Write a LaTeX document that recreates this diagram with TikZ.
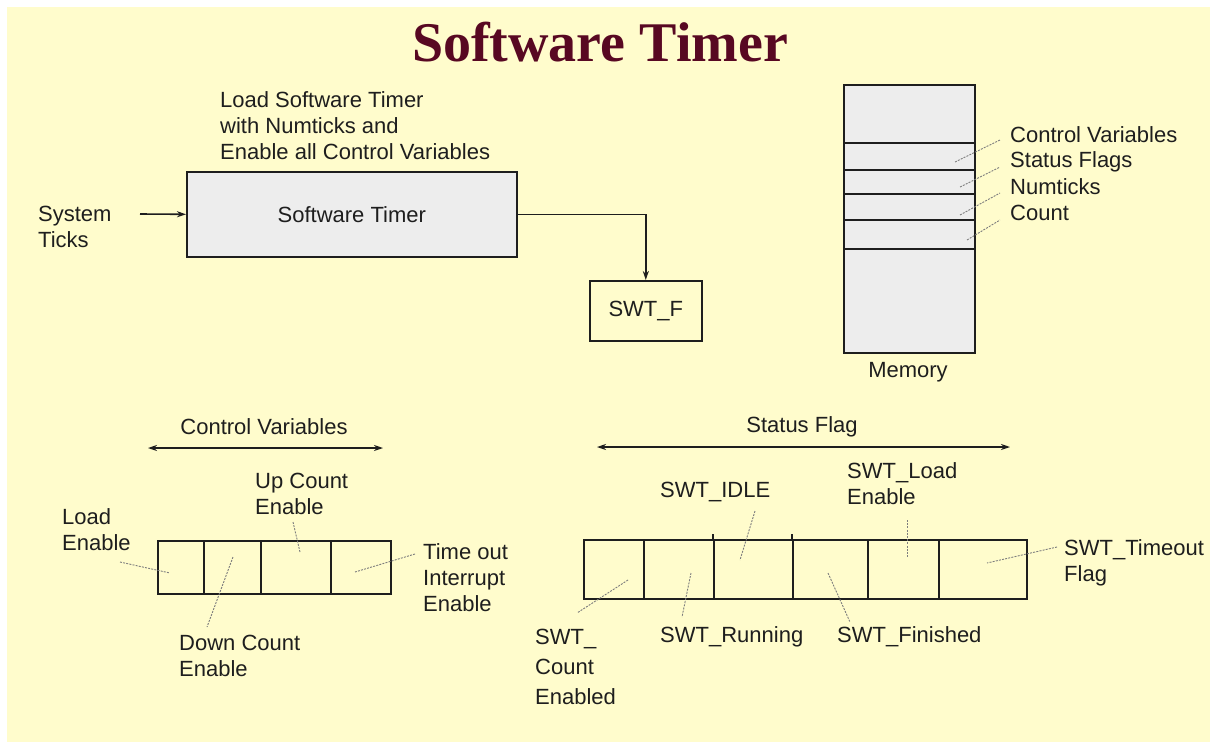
\documentclass[tikz,border=0pt]{standalone}
\usepackage{fontspec}
\setmainfont{Liberation Sans}
\newfontfamily\titlefont{Liberation Serif}
\usetikzlibrary{arrows.meta}
\definecolor{paper}{RGB}{255,252,204}
\definecolor{boxgray}{RGB}{237,237,237}
\definecolor{ink}{RGB}{30,30,30}
\definecolor{maroon}{RGB}{88,8,34}
\definecolor{leadgray}{RGB}{125,125,125}
\tikzset{
  lbl/.style={inner sep=0pt, anchor=west, align=left, text=ink, font=\fontsize{22}{26}\selectfont},
  cell/.style={draw=ink, line width=1.6pt, inner sep=0pt, anchor=north west, text=ink, font=\fontsize{22}{26}\selectfont},
  lead/.style={draw=leadgray, line width=0.9pt, dash pattern=on 2pt off 1.2pt},
  wire/.style={draw=ink, line width=1.6pt},
  tip/.style={-{Stealth[length=9pt,width=6pt]}},
  dbl/.style={{Stealth[length=9pt,width=6pt]}-{Stealth[length=9pt,width=6pt]}},
}
\begin{document}
\begin{tikzpicture}[x=1pt,y=-1pt]
% page and backdrop
\fill[white] (0,0) rectangle (1210,742);
\fill[paper] (7,7) rectangle (1210,742);
\useasboundingbox (0,0) rectangle (1210,742);

% heading
\node[inner sep=0pt, text=maroon, font=\titlefont\bfseries\fontsize{56}{60}\selectfont] (title) at (600,42) {Software Timer};

% ---------- timer block ----------
\node[lbl] (loadtxt) at (220,126) {Load Software Timer\\with Numticks and\\Enable all Control Variables};
\node[cell, fill=boxgray, minimum width=330pt, minimum height=85pt] (swt) at (186,171) {Software Timer};
\node[lbl] (ticks) at (38,227) {System\\Ticks};
\coordinate (tickin) at (140,214);
\draw[wire, tip] (tickin) -- (swt.west);
\node[cell, minimum width=112pt, minimum height=60pt] (swtf) at (589,280) {SWT\_F};
\draw[wire, tip] (swt.east) -| (swtf.north);

% ---------- memory map ----------
\node[cell, fill=boxgray, minimum width=131pt, minimum height=268pt] (mem) at (843,84) {};
\foreach \d in {59,86,110,136,165}
  \draw[wire] ([yshift=-\d pt]mem.north west) -- ([yshift=-\d pt]mem.north east);
\node[lbl, anchor=north] (memtxt) at (908,362) {Memory};
\node[lbl] (mcv) at (1010,135) {Control Variables};
\node[lbl] (msf) at (1010,162) {Status Flags};
\node[lbl] (mnt) at (1010,187) {Numticks};
\node[lbl] (mct) at (1010,213) {Count};
\coordinate (mcvA) at (955,162); \coordinate (mcvB) at (1000,140);
\coordinate (msfA) at (960,187); \coordinate (msfB) at (1000,167);
\coordinate (mntA) at (960,215); \coordinate (mntB) at (1000,193);
\coordinate (mctA) at (967,240); \coordinate (mctB) at (1000,220);
\draw[lead] (mcvA) -- (mcvB);
\draw[lead] (msfA) -- (msfB);
\draw[lead] (mntA) -- (mntB);
\draw[lead] (mctA) -- (mctB);

% ---------- control variables register ----------
\node[lbl, anchor=center] (cvtitle) at (264,427) {Control Variables};
\coordinate (cvL) at (148,448); \coordinate (cvR) at (383,448);
\draw[wire, line width=1.3pt, dbl] (cvL) -- (cvR);
\node[cell, minimum width=46pt, minimum height=53pt] (c1) at (157,540) {};
\node[cell, minimum width=57pt, minimum height=53pt] (c2) at (203,540) {};
\node[cell, minimum width=70pt, minimum height=53pt] (c3) at (260,540) {};
\node[cell, minimum width=60pt, minimum height=53pt] (c4) at (330,540) {};

\node[lbl] (cload) at (62,530) {Load\\Enable};
\node[lbl] (cup) at (255,494) {Up Count\\Enable};
\node[lbl] (ctime) at (423,578) {Time out\\Interrupt\\Enable};
\node[lbl] (cdown) at (179,656) {Down Count\\Enable};
\coordinate (cloadA) at (120,562); \coordinate (cloadB) at (170,573);
\coordinate (cupA) at (293,522);   \coordinate (cupB) at (300,552);
\coordinate (ctimeA) at (415,554); \coordinate (ctimeB) at (355,572);
\coordinate (cdownA) at (233,557); \coordinate (cdownB) at (207,627);
\draw[lead] (cloadA) -- (cloadB);
\draw[lead] (cupA) -- (cupB);
\draw[lead] (ctimeA) -- (ctimeB);
\draw[lead] (cdownA) -- (cdownB);

% ---------- status flag register ----------
\node[lbl, anchor=center] (sftitle) at (802,427) {Status Flag};
\coordinate (sfL) at (597,447); \coordinate (sfR) at (1010,447);
\draw[wire, line width=1.3pt, dbl] (sfL) -- (sfR);
\node[cell, minimum width=60pt, minimum height=59pt] (s1) at (583,539) {};
\node[cell, minimum width=70pt, minimum height=59pt] (s2) at (643,539) {};
\node[cell, minimum width=79pt, minimum height=59pt] (s3) at (713,539) {};
\node[cell, minimum width=75pt, minimum height=59pt] (s4) at (792,539) {};
\node[cell, minimum width=71pt, minimum height=59pt] (s5) at (867,539) {};
\node[cell, minimum width=88pt, minimum height=59pt] (s6) at (938,539) {};
\draw[wire] ([yshift=5pt]s3.north west) -- (s3.north west);
\draw[wire] ([yshift=5pt]s4.north west) -- (s4.north west);

\node[lbl] (sidle) at (660,492) {SWT\_IDLE};
\node[lbl] (sload) at (847,484) {SWT\_Load\\Enable};
\node[lbl] (stime) at (1064,563) {SWT\_Timeout\\Flag};
\node[lbl, font=\fontsize{22}{30}\selectfont] (scount) at (535,667) {SWT\_\\Count\\Enabled};
\node[lbl] (srun) at (660,637) {SWT\_Running};
\node[lbl] (sfin) at (837,637) {SWT\_Finished};
\coordinate (sidleA) at (755,511);  \coordinate (sidleB) at (740,560);
\coordinate (sloadA) at (907,520);  \coordinate (sloadB) at (907,557);
\coordinate (stimeA) at (1057,547); \coordinate (stimeB) at (987,563);
\coordinate (scountA) at (628,580); \coordinate (scountB) at (577,613);
\coordinate (srunA) at (691,573);   \coordinate (srunB) at (682,617);
\coordinate (sfinA) at (828,573);   \coordinate (sfinB) at (850,622);
\draw[lead] (sidleA) -- (sidleB);
\draw[lead] (sloadA) -- (sloadB);
\draw[lead] (stimeA) -- (stimeB);
\draw[lead] (scountA) -- (scountB);
\draw[lead] (srunA) -- (srunB);
\draw[lead] (sfinA) -- (sfinB);
\end{tikzpicture}
\end{document}
